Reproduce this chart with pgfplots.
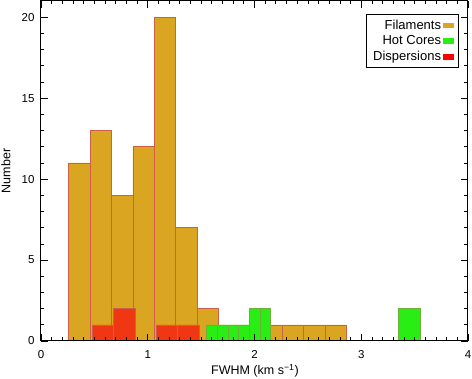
\documentclass[border=0pt]{standalone}
\usepackage{fontspec}
\setmainfont{Liberation Sans}
\usepackage{pgfplots}
\pgfplotsset{compat=1.18}
\definecolor{filfill}{RGB}{218,165,32}
\definecolor{baredge}{RGB}{205,95,75}
\definecolor{hotfill}{RGB}{40,238,20}
\definecolor{hotedge}{RGB}{110,175,60}
\definecolor{disfill}{RGB}{240,55,20}
\begin{document}
\begin{tikzpicture}
\useasboundingbox (-41pt,-38pt) rectangle (431pt,341pt);
\begin{axis}[
  scale only axis, width=427pt, height=340pt,
  xmin=0, xmax=4, ymin=0, ymax=21,
  xtick={0,1,2,3,4}, ytick={0,5,10,15,20},
  minor x tick num=9, minor y tick num=4,
  major tick length=7pt, minor tick length=3.5pt,
  tick style={black, line width=0.7pt},
  axis line style={line width=1pt},
  axis on top,
  /pgf/number format/assume math mode=true,
  tick label style={font=\fontsize{11.5}{13}\selectfont},
  yticklabel style={xshift=-3pt},
  xticklabel style={yshift=-6pt},
  xlabel={FWHM (km s\textsuperscript{−1})},
  ylabel={Number},
  label style={font=\fontsize{12.5}{14}\selectfont},
  xlabel style={at={(axis description cs:0.501,-0.087)}, anchor=center},
  ylabel style={at={(axis description cs:-0.082,0.5)}, anchor=center, rotate=0},
  legend style={at={(axis description cs:1,1)}, anchor=north east,
    xshift=-9pt, yshift=-13.5pt, draw=black, line width=0.6pt,
    font=\fontsize{13}{15}\selectfont, inner xsep=5pt, inner ysep=3pt,
    row sep=1pt},
  legend cell align=right,
  legend plot pos=right,
]
% Filaments (zero bins continue along the baseline)
\addplot[ybar interval, fill=filfill, draw=baredge, line width=0.6pt, forget plot]
  coordinates {(0.26,11)(0.46,13)(0.66,9)(0.86,12)(1.06,20)(1.26,7)(1.46,2)
               (1.66,1)(1.86,1)(2.06,1)(2.26,1)(2.46,1)(2.66,1)(2.86,0)
               (3.06,0)(3.26,0)(3.46,0)};
% Hot cores
\addplot[ybar interval, fill=hotfill, draw=hotedge, line width=0.5pt, forget plot]
  coordinates {(1.55,1)(1.65,1)(1.75,1)(1.85,1)(1.95,2)(2.05,2)(2.15,0)};
\addplot[ybar interval, fill=hotfill, draw=hotedge, line width=0.5pt, forget plot]
  coordinates {(3.35,2)(3.55,0)};
% Dispersions
\addplot[ybar interval, fill=disfill, draw=baredge, line width=0.6pt, forget plot]
  coordinates {(0.48,1)(0.68,2)(0.88,0)(1.08,1)(1.28,1)(1.48,0)};
\addlegendimage{legend image code/.code={\fill[filfill] (0pt,-2.3pt) rectangle (10pt,2.3pt);}}
\addlegendentry{Filaments}
\addlegendimage{legend image code/.code={\fill[hotfill] (0pt,-2.3pt) rectangle (10pt,2.3pt);}}
\addlegendentry{Hot Cores}
\addlegendimage{legend image code/.code={\fill[red] (0pt,-2.3pt) rectangle (10pt,2.3pt);}}
\addlegendentry{Dispersions}
\end{axis}
\end{tikzpicture}
\end{document}
